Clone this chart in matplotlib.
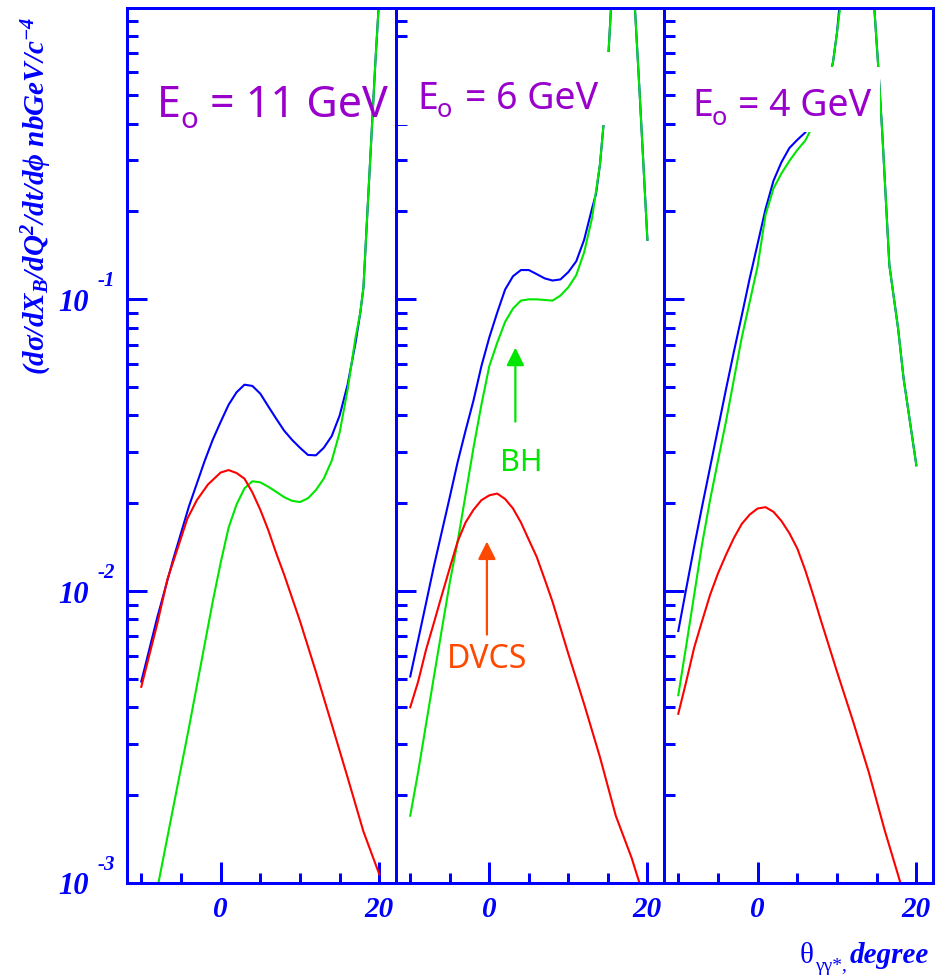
import numpy as np
import matplotlib
matplotlib.use("Agg")
import matplotlib.pyplot as plt
from matplotlib.patches import Rectangle
from matplotlib.ticker import LogLocator, NullFormatter, FixedLocator
from matplotlib.transforms import offset_copy

# ---------------- data ----------------
energy_labels = ["11", "6", "4"]

theta_dvcs_11 = [-10, -8, -6.7, -5.5, -4.2, -3, -1.6, 0, 1, 2, 3, 4, 5, 6, 7, 8, 10, 12, 14,
                 16, 18, 20]
dvcs_11 = [0.0047, 0.0077, 0.011, 0.0138, 0.0177, 0.0205, 0.0232, 0.0255, 0.026, 0.0254,
           0.0243, 0.0218, 0.019, 0.0162, 0.0135, 0.0114, 0.0079, 0.0053, 0.0035, 0.0023,
           0.0015, 0.00107]
theta_tot_11 = [-10, -8, -6, -4, -2, -1, 0, 1, 2, 3, 4, 5, 6, 7, 8, 9, 10, 11, 12, 13, 14,
                15, 16, 17, 17.6, 18, 18.5, 19, 19.5, 20]
tot_11 = [0.0049, 0.0081, 0.0128, 0.0195, 0.028, 0.033, 0.038, 0.0435, 0.048, 0.051, 0.0505,
          0.0475, 0.043, 0.039, 0.0355, 0.033, 0.031, 0.0293, 0.0292, 0.031, 0.034, 0.040,
          0.051, 0.071, 0.09, 0.11, 0.2, 0.36, 0.65, 1.1]
theta_bh_11 = [-8, -6, -4, -2, -1, 0, 1, 2, 3, 4, 5, 6, 7, 8, 9, 10, 11, 12, 13, 14, 15,
               16, 17, 17.6, 18, 18.5, 19, 19.5, 20]
bh_11 = [0.00095, 0.0018, 0.0034, 0.0066, 0.0092, 0.0125, 0.0165, 0.0198, 0.0225, 0.0238,
         0.0236, 0.0228, 0.0219, 0.021, 0.0204, 0.0202, 0.0208, 0.0222, 0.0243, 0.028, 0.035,
         0.049, 0.074, 0.09, 0.11, 0.2, 0.36, 0.65, 1.1]

theta_dvcs_6 = [-10, -9, -8, -7, -6, -5, -4, -3, -2, -1, 0, 1, 2, 3, 4, 5, 6, 7, 8, 10,
                12, 14, 16, 18, 19]
dvcs_6 = [0.004, 0.0049, 0.0063, 0.0078, 0.0097, 0.012, 0.0148, 0.0172, 0.019, 0.0205,
          0.0213, 0.0216, 0.0207, 0.0192, 0.0172, 0.015, 0.0131, 0.011, 0.0092, 0.0061,
          0.0041, 0.0027, 0.0017, 0.00122, 0.001]
theta_tot_6 = [-10, -9, -8, -7, -6, -5, -4, -3, -2, -1, 0, 1, 2, 3, 4, 5, 6, 7, 8, 9, 10,
               11, 12, 13, 13.5, 14, 14.5, 15, 15.4, 16, 17, 18, 19, 20]
tot_6 = [0.0051, 0.0068, 0.0091, 0.0122, 0.016, 0.021, 0.0277, 0.0355, 0.045, 0.059, 0.074,
         0.09, 0.108, 0.12, 0.126, 0.126, 0.122, 0.118, 0.116, 0.117, 0.124, 0.135, 0.16,
         0.205, 0.23, 0.29, 0.41, 0.64, 1.0, 2.0, 3.5, 1.6, 0.52, 0.16]
theta_bh_6 = [-10, -9, -8, -7, -6, -5, -4, -3, -2, -1, 0, 1, 2, 3, 4, 5, 6, 7, 8, 9, 10,
              11, 12, 13, 14, 14.5, 15, 15.4, 16, 17, 18, 19, 20]
bh_6 = [0.0017, 0.0024, 0.0035, 0.0051, 0.0074, 0.0107, 0.0148, 0.0214, 0.031, 0.0435,
        0.059, 0.071, 0.0837, 0.093, 0.099, 0.1, 0.1, 0.0995, 0.099, 0.103, 0.11, 0.121,
        0.145, 0.19, 0.29, 0.41, 0.64, 1.0, 2.0, 3.5, 1.6, 0.52, 0.16]

theta_dvcs_4 = [-10, -9, -8, -7, -6, -5, -4, -3, -2, -1, 0, 1, 2, 3, 4, 5, 6, 7, 8, 10,
                12, 14, 16, 18]
dvcs_4 = [0.0038, 0.0049, 0.0064, 0.0079, 0.0097, 0.0115, 0.0133, 0.0152, 0.017, 0.0183,
          0.0192, 0.0194, 0.0187, 0.0174, 0.0158, 0.014, 0.0118, 0.0097, 0.0079, 0.0053,
          0.0036, 0.0024, 0.00152, 0.001]
theta_tot_4 = [-10, -9, -8, -7, -6, -5, -4, -3, -2, -1, 0, 1, 2, 3, 4, 5, 6, 7, 8, 9, 9.5,
               10, 10.3, 11, 12, 13, 14, 14.7, 15.2, 15.7, 16.6, 17.7, 18.4, 19, 20]
tot_4 = [0.0073, 0.0102, 0.0142, 0.0195, 0.0265, 0.036, 0.049, 0.066, 0.088, 0.118, 0.155,
         0.204, 0.255, 0.295, 0.33, 0.352, 0.373, 0.41, 0.48, 0.57, 0.65, 0.82, 1.0, 1.8,
         3.0, 3.5, 2.2, 1.0, 0.627, 0.375, 0.131, 0.0795, 0.0534, 0.0414, 0.027]
theta_bh_4 = [-10, -9, -8, -7, -6, -5, -4, -3, -2, -1, 0, 1, 2, 3, 4, 5, 6, 7, 8, 9, 9.5,
              10, 10.4, 11, 12, 13, 14, 14.7, 15.2, 15.7, 16.6, 17.7, 18.4, 19, 20]
bh_4 = [0.0044, 0.0065, 0.0097, 0.0145, 0.0205, 0.028, 0.038, 0.053, 0.074, 0.098, 0.13,
        0.195, 0.24, 0.27, 0.298, 0.325, 0.35, 0.395, 0.47, 0.565, 0.65, 0.82, 1.0, 1.8,
        3.0, 3.5, 2.2, 1.0, 0.627, 0.375, 0.131, 0.0795, 0.0534, 0.0414, 0.027]

x_major_ticks = [0, 20]
x_major_labels = ["0", "20"]
x_minor_ticks = [-10, -5, 5, 10, 15]
y_decades = [-1, -2, -3]

# annotation anchors (panel 2)
bh_arrow_theta, bh_arrow_from, bh_arrow_to = 3.3, 0.0381, 0.0683
bh_text_theta, bh_text_y = 4.1, 0.0278
dvcs_arrow_theta, dvcs_arrow_from, dvcs_arrow_to = -0.3, 0.0071, 0.0148
dvcs_text_theta, dvcs_text_y = -0.25, 0.00586

# ---------------- styling ----------------
BLUE = "#0000ff"
GREEN = "#00e600"
RED = "#ff0000"
ORANGE = "#ff4800"
PURPLE = "#9900cc"
SERIF = "Liberation Serif"
SANS = "Noto Sans"

plt.rcParams["mathtext.fontset"] = "custom"
plt.rcParams["mathtext.rm"] = "Liberation Serif:italic:bold"
plt.rcParams["mathtext.it"] = "Liberation Serif:italic:bold"
plt.rcParams["mathtext.bf"] = "Liberation Serif:italic:bold"

W, H = 942, 978
fig = plt.figure(figsize=(W / 100, H / 100), dpi=100)

panel_px = [(127, 396), (396, 664), (664, 933)]
top_px, bot_px = 8.5, 884
LW_AX = 2.16

data = [
    (theta_tot_11, tot_11, theta_bh_11, bh_11, theta_dvcs_11, dvcs_11),
    (theta_tot_6, tot_6, theta_bh_6, bh_6, theta_dvcs_6, dvcs_6),
    (theta_tot_4, tot_4, theta_bh_4, bh_4, theta_dvcs_4, dvcs_4),
]

axes = []
for i, (x0, x1) in enumerate(panel_px):
    ax = fig.add_axes([x0 / W, (H - bot_px) / H, (x1 - x0) / W, (bot_px - top_px) / H])
    ax.set_yscale("log")
    ax.set_xlim(-11.8, 22.1)
    ax.set_ylim(1e-3, 1)
    tt, tv, bt, bv, dt, dv = data[i]
    ax.plot(tt, tv, color=BLUE, lw=1.5, zorder=2)
    ax.plot(bt, bv, color=GREEN, lw=1.5, zorder=2.05)
    ax.plot(dt, dv, color=RED, lw=1.5, zorder=2.1)
    for sp in ax.spines.values():
        sp.set_color(BLUE)
        sp.set_linewidth(LW_AX)
    ax.xaxis.set_major_locator(FixedLocator(x_major_ticks))
    ax.xaxis.set_minor_locator(FixedLocator(x_minor_ticks))
    ax.set_xticklabels(x_major_labels, fontfamily=SERIF, fontweight="bold",
                       fontstyle="italic", fontsize=21, color=BLUE)
    ax.xaxis.set_minor_formatter(NullFormatter())
    ax.yaxis.set_major_locator(LogLocator(base=10, numticks=10))
    ax.yaxis.set_minor_locator(LogLocator(base=10, subs=np.arange(2, 10), numticks=20))
    ax.yaxis.set_minor_formatter(NullFormatter())
    ax.tick_params(axis="x", which="major", direction="in", length=15, width=LW_AX,
                   color=BLUE, pad=9, top=False)
    ax.tick_params(axis="x", which="minor", direction="in", length=7.2, width=LW_AX,
                   color=BLUE, top=False)
    ax.tick_params(axis="y", which="major", direction="in", length=14.4, width=LW_AX,
                   color=BLUE, left=True, right=False, labelleft=False)
    ax.tick_params(axis="y", which="minor", direction="in", length=7.9, width=LW_AX,
                   color=BLUE, left=True, right=False)
    axes.append(ax)

ax1, ax2, ax3 = axes

# y tick labels "10 ^-n" drawn by hand in the first panel
ytr = ax1.get_yaxis_transform()
for d in y_decades:
    base = offset_copy(ytr, fig=fig, x=0, y=-10.5, units="dots")
    ax1.text((89 - 127) / 269, 10.0 ** d, "10", transform=base, ha="right", va="baseline",
             fontfamily=SERIF, fontweight="bold", fontstyle="italic", fontsize=22, color=BLUE,
             clip_on=False)
    sup = offset_copy(ytr, fig=fig, x=0, y=14, units="dots")
    ax1.text((98 - 127) / 269, 10.0 ** d, "-%d" % (-d), transform=sup, ha="left",
             va="baseline", fontfamily=SERIF, fontweight="bold", fontstyle="italic",
             fontsize=15, color=BLUE, clip_on=False)

# y label
fig.text(37 / W, 1 - 196 / H, r"(d$\sigma$/dX$_B$/dQ$^2$/dt/d$\phi$ nbGeV/c$^{-4}$",
         rotation=90, ha="center", va="center", fontfamily=SERIF, fontweight="bold",
         fontstyle="italic", fontsize=21, color=BLUE)

# x label: theta_{gamma gamma*}, degree
def ptext(x, y, s, **kw):
    return fig.text(x / W, 1 - y / H, s, va="baseline", ha="left", **kw)

ptext(800, 963, "θ", fontfamily=SERIF, fontsize=21, color=BLUE)
ptext(815, 971, "γγ*,", fontfamily=SERIF, fontsize=14, color=BLUE)
ptext(850, 963, "degree", fontfamily=SERIF, fontweight="bold", fontstyle="italic",
      fontsize=21, color=BLUE)

# white boxes behind the energy labels in panels 2 and 3
for (bx0, by0, bx1, by1) in [(397.5, 53, 610, 126), (686, 68, 880, 133)]:
    fig.patches.append(Rectangle((bx0 / W, 1 - by1 / H), (bx1 - bx0) / W, (by1 - by0) / H,
                                 transform=fig.transFigure, facecolor="white",
                                 edgecolor="none", zorder=3))

# energy labels E_o = ... GeV
label_layout = [
    # E left, E baseline, o left, o baseline, rest left, size
    (157, 117, 180, 128, 210, 31),
    (417, 109, 437, 117, 465, 27),
    (692, 116, 712, 125, 738, 27),
]
for (ex, eb, ox, ob, rx, fs), en in zip(label_layout, energy_labels):
    ptext(ex, eb, "E", fontfamily=SANS, fontsize=fs, color=PURPLE, zorder=5)
    ptext(ox, ob, "o", fontfamily=SANS, fontsize=fs * 0.68, color=PURPLE, zorder=5)
    ptext(rx, eb, "= %s GeV" % en, fontfamily=SANS, fontsize=fs, color=PURPLE, zorder=5)

# BH / DVCS annotations in panel 2
ax2.annotate("", xy=(bh_arrow_theta, bh_arrow_to), xytext=(bh_arrow_theta, bh_arrow_from),
             arrowprops=dict(arrowstyle="-|>,head_length=0.4,head_width=0.2",
                             mutation_scale=27, color=GREEN, lw=1.6, shrinkA=0, shrinkB=0))
ax2.text(bh_text_theta, bh_text_y, "BH", ha="center", va="center", fontfamily=SANS,
         fontsize=22, color=GREEN)
ax2.annotate("", xy=(dvcs_arrow_theta, dvcs_arrow_to),
             xytext=(dvcs_arrow_theta, dvcs_arrow_from),
             arrowprops=dict(arrowstyle="-|>,head_length=0.4,head_width=0.2",
                             mutation_scale=27, color=ORANGE, lw=1.6, shrinkA=0, shrinkB=0))
ax2.text(dvcs_text_theta, dvcs_text_y, "DVCS", ha="center", va="center", fontfamily=SANS,
         fontsize=23, color=ORANGE)

fig.savefig("out.png", dpi=100)
